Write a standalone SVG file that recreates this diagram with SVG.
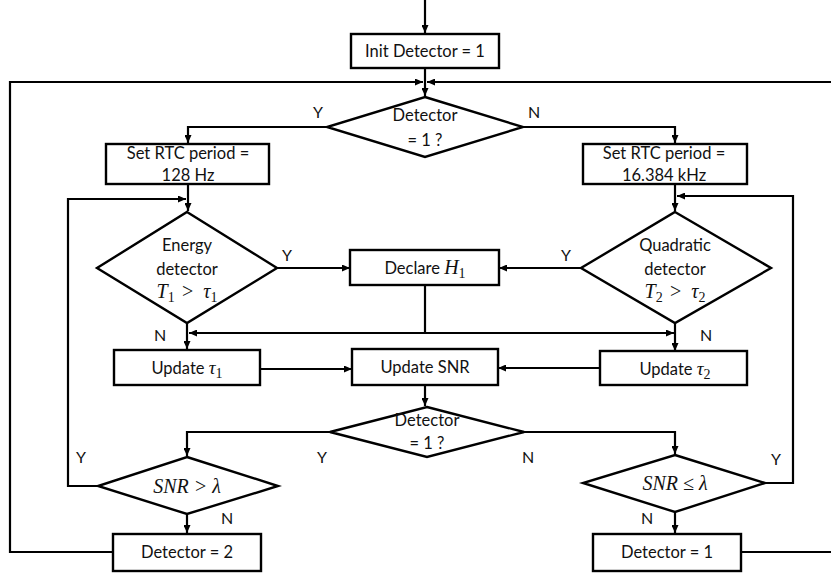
<svg xmlns="http://www.w3.org/2000/svg" width="831" height="573" viewBox="0 0 831 573">
  <defs>
    <marker id="arrow" markerUnits="userSpaceOnUse" markerWidth="8" markerHeight="7" refX="8" refY="3.5" orient="auto">
      <path d="M0,0 L8,3.5 L0,7 z" fill="#000"/>
    </marker>
    <style>
      .box { fill: #fff; stroke: #000; stroke-width: 2.4; }
      .link { fill: none; stroke: #000; stroke-width: 2.2; }
      .arr { marker-end: url(#arrow); }
      text { font-family: Lato, "Open Sans", "Liberation Sans", sans-serif; font-size: 16.5px; fill: #111; text-anchor: middle; }
      .math { font-family: "Liberation Serif", "DejaVu Serif", serif; font-style: italic; font-size: 20px; }
      .greek { font-family: "Liberation Serif", "DejaVu Serif", serif; font-style: italic; font-size: 19px; }
      .up { font-family: "Liberation Serif", "DejaVu Serif", serif; font-style: normal; font-size: 14px; }
      .lbl { font-size: 16px; }
    </style>
  </defs>

  <rect width="831" height="573" fill="#fff"/>

  <!-- connectors -->
  <g id="connectors">
    <path class="link arr" d="M425,0 V33"/>
    <path class="link arr" d="M425,68 V96"/>
    <path class="link arr" d="M113,552 H10 V82 H423"/>
    <path class="link arr" d="M741,552 H836 V82 H427"/>
    <path class="link arr" d="M327,127 H188 V143"/>
    <path class="link arr" d="M523,127 H675 V143"/>
    <path class="link arr" d="M188,184 V211"/>
    <path class="link arr" d="M98,486 H68 V199 H186"/>
    <path class="link arr" d="M675,184 V211"/>
    <path class="link arr" d="M765,483 H793 V196 H677"/>
    <path class="link arr" d="M277,268 H350"/>
    <path class="link arr" d="M581,268 H499"/>
    <path class="link" d="M425,285 V333"/>
    <path class="link arr" d="M425,333 H189"/>
    <path class="link arr" d="M425,333 H674"/>
    <path class="link arr" d="M187,323 V349"/>
    <path class="link arr" d="M675,323 V351"/>
    <path class="link arr" d="M260,369 H352"/>
    <path class="link arr" d="M600,368 H498"/>
    <path class="link arr" d="M425,385 V406"/>
    <path class="link arr" d="M330,432 H187 V456"/>
    <path class="link arr" d="M524,432 H675 V454"/>
    <path class="link arr" d="M187,514 V533"/>
    <path class="link arr" d="M675,512 V533"/>
  </g>

  <!-- branch labels -->
  <g id="labels">
    <text class="lbl" x="318" y="118">Y</text>
    <text class="lbl" x="534" y="118">N</text>
    <text class="lbl" x="287" y="261">Y</text>
    <text class="lbl" x="566" y="261">Y</text>
    <text class="lbl" x="160" y="341">N</text>
    <text class="lbl" x="706" y="341">N</text>
    <text class="lbl" x="322" y="463">Y</text>
    <text class="lbl" x="528" y="463">N</text>
    <text class="lbl" x="81" y="463">Y</text>
    <text class="lbl" x="776" y="465">Y</text>
    <text class="lbl" x="227" y="524">N</text>
    <text class="lbl" x="647" y="524">N</text>
  </g>

  <g id="init">
    <rect class="box" x="351" y="34" width="148" height="34"/>
    <text x="425" y="57">Init Detector = 1</text>
  </g>

  <g id="decision-top">
    <polygon class="box" points="425,97 523,127 425,157 327,127"/>
    <text x="425" y="121">Detector</text>
    <text x="425" y="146">= 1 ?</text>
  </g>

  <g id="rtc-128">
    <rect class="box" x="106" y="144" width="163" height="40"/>
    <text x="188" y="159">Set RTC period =</text>
    <text x="188" y="181">128 Hz</text>
  </g>

  <g id="rtc-16k">
    <rect class="box" x="583" y="144" width="164" height="40"/>
    <text x="664" y="159">Set RTC period =</text>
    <text x="664" y="181">16.384 kHz</text>
  </g>

  <g id="energy">
    <polygon class="box" points="187,212 277,268 187,323 97,268"/>
    <text x="187" y="251">Energy</text>
    <text x="187" y="275">detector</text>
    <text class="math" x="187" y="298">T<tspan class="up" dy="4">1</tspan><tspan dy="-4" dx="6">&gt;</tspan><tspan dx="9">τ</tspan><tspan class="up" dy="4">1</tspan></text>
  </g>

  <g id="quadratic">
    <polygon class="box" points="675,212 771,268 675,323 581,268"/>
    <text x="675" y="251">Quadratic</text>
    <text x="675" y="275">detector</text>
    <text class="math" x="675" y="298">T<tspan class="up" dy="4">2</tspan><tspan dy="-4" dx="6">&gt;</tspan><tspan dx="9">τ</tspan><tspan class="up" dy="4">2</tspan></text>
  </g>

  <g id="declare">
    <rect class="box" x="350" y="250" width="149" height="35"/>
    <text x="425" y="274">Declare <tspan class="math">H</tspan><tspan class="up" dy="4">1</tspan></text>
  </g>

  <g id="update-tau1">
    <rect class="box" x="114" y="350" width="146" height="35"/>
    <text x="187" y="374">Update <tspan class="greek">τ</tspan><tspan class="up" dy="4">1</tspan></text>
  </g>

  <g id="update-snr">
    <rect class="box" x="352" y="349" width="146" height="36"/>
    <text x="425" y="373">Update SNR</text>
  </g>

  <g id="update-tau2">
    <rect class="box" x="600" y="351" width="147" height="34"/>
    <text x="675" y="375">Update <tspan class="greek">τ</tspan><tspan class="up" dy="4">2</tspan></text>
  </g>

  <g id="decision-bottom">
    <polygon class="box" points="427,407 524,432 427,457 330,432"/>
    <text x="427" y="426">Detector</text>
    <text x="427" y="449">= 1 ?</text>
  </g>

  <g id="snr-gt">
    <polygon class="box" points="187,457 278,486 187,514 98,486"/>
    <text class="math" x="187" y="493">SNR &gt; λ</text>
  </g>

  <g id="snr-le">
    <polygon class="box" points="675,455 765,483 675,512 583,483"/>
    <text class="math" x="675" y="490">SNR ≤ λ</text>
  </g>

  <g id="set-detector-2">
    <rect class="box" x="113" y="534" width="148" height="37"/>
    <text x="187" y="558">Detector = 2</text>
  </g>

  <g id="set-detector-1">
    <rect class="box" x="593" y="534" width="148" height="37"/>
    <text x="667" y="558">Detector = 1</text>
  </g>
</svg>
